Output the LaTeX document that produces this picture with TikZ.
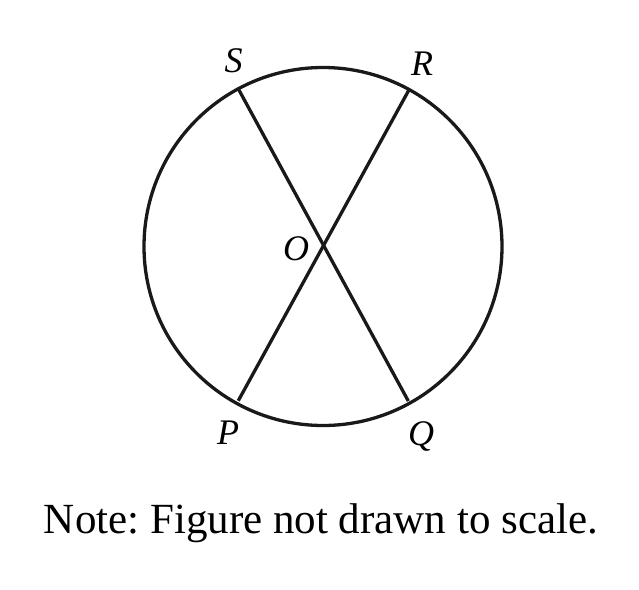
\documentclass[tikz,border=0pt]{standalone}
\usepackage{fontspec}
\setmainfont{Liberation Serif}
\frenchspacing
\begin{document}
\begin{tikzpicture}[x=1pt,y=-1pt,
  geo/.style={line width=3.3pt,black!90},
  lbl/.style={font=\fontsize{36}{36}\selectfont\itshape,inner sep=0pt,anchor=center},
  note/.style={font=\fontsize{43}{43}\selectfont,inner sep=0pt,anchor=base}]
\useasboundingbox (0,0) rectangle (639,589);
\coordinate (O) at (323,245);
\node[geo,draw,circle,minimum size=358pt,inner sep=0pt] (c) at (323,246.5) {};
\coordinate (S) at (237.7,87.7);
\coordinate (R) at (409.3,89.3);
\coordinate (P) at (238.3,400.7);
\coordinate (Q) at (408.3,401);
\draw[geo] (S) -- (Q);
\draw[geo] (R) -- (P);
\node[lbl] (lS) at (233.5,61) {S};
\node[lbl] (lR) at (422,64) {R};
\node[lbl] (lO) at (296,249) {O};
\node[lbl] (lP) at (228,433) {P};
\node[lbl] (lQ) at (421,436) {Q};
\node[note] (n) at (321,533) {Note: Figure not drawn to scale.};
\end{tikzpicture}
\end{document}
